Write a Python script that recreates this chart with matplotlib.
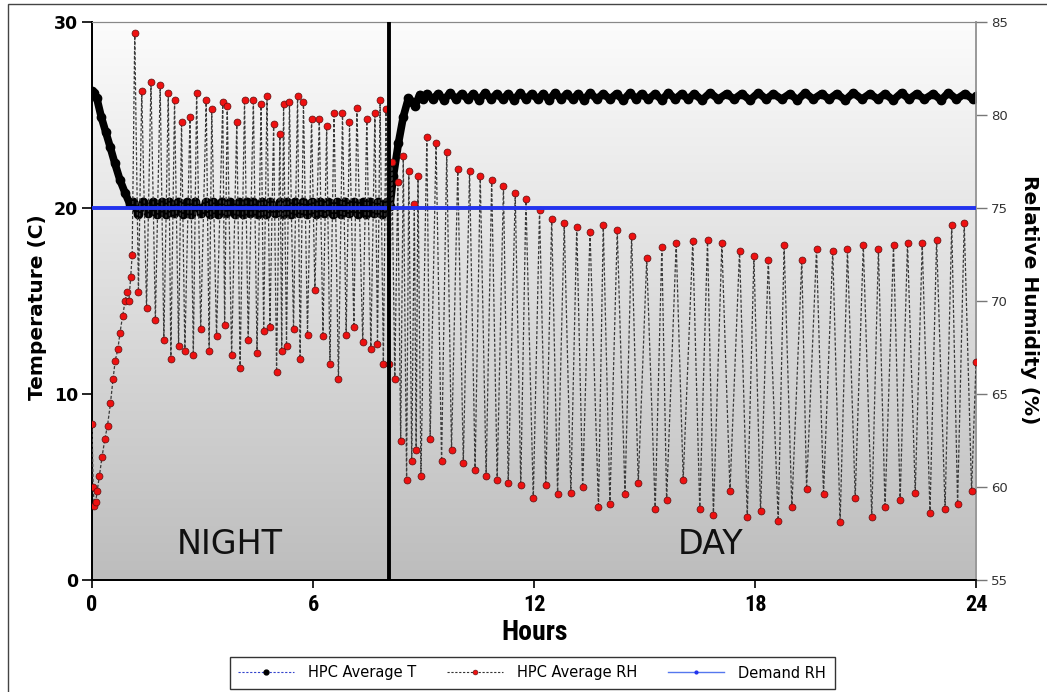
import numpy as np
import matplotlib
matplotlib.use('Agg')
import matplotlib.pyplot as plt
from matplotlib.lines import Line2D
from matplotlib.colors import LinearSegmentedColormap
from matplotlib.patches import Rectangle
from matplotlib.font_manager import FontProperties

# values (hours / deg C / % RH)

# --- HPC Average T ---
t_T_ramp = [0.0, 0.05, 0.13, 0.25, 0.37, 0.49, 0.62, 0.76, 0.9, 1.03]
T_ramp = [26.3, 26.2, 25.9, 24.9, 24.1, 23.3, 22.4, 21.5, 20.8, 20.2]

t_T_night_hi = [1.12, 1.39, 1.65, 1.89, 2.10,
                2.34, 2.57, 2.80, 3.10, 3.29,
                3.52, 3.75, 4.00, 4.20, 4.38,
                4.61, 4.83, 5.09, 5.29, 5.51,
                5.72, 5.96, 6.19, 6.42, 6.64,
                6.87, 7.10, 7.35, 7.55, 7.77,
                8.00]
T_night_hi = [20.30, 20.35, 20.30, 20.30, 20.35,
              20.30, 20.30, 20.35, 20.30, 20.30,
              20.35, 20.30, 20.30, 20.35, 20.30,
              20.30, 20.35, 20.30, 20.30, 20.35,
              20.30, 20.30, 20.35, 20.30, 20.30,
              20.35, 20.30, 20.30, 20.35, 20.30,
              20.30]
t_T_night_lo = [1.25, 1.52, 1.77, 2.00, 2.22,
                2.46, 2.69, 2.95, 3.20, 3.41,
                3.63, 3.88, 4.10, 4.29, 4.50,
                4.72, 4.96, 5.19, 5.40, 5.62,
                5.84, 6.08, 6.30, 6.53, 6.76,
                6.98, 7.22, 7.45, 7.66, 7.88]
T_night_lo = [19.70, 19.75, 19.70, 19.70, 19.75,
              19.70, 19.70, 19.75, 19.70, 19.70,
              19.75, 19.70, 19.70, 19.75, 19.70,
              19.70, 19.75, 19.70, 19.70, 19.75,
              19.70, 19.70, 19.75, 19.70, 19.70,
              19.75, 19.70, 19.70, 19.75, 19.70]

t_T_rise = [8.09, 8.18, 8.32, 8.45, 8.59, 8.70, 8.77, 8.90]
T_rise = [20.1, 21.7, 23.5, 24.9, 25.9, 25.7, 25.5, 26.1]

t_T_day_hi = [9.09, 9.40, 9.72, 10.04, 10.35,
              10.67, 10.99, 11.30, 11.62, 11.94,
              12.25, 12.57, 12.89, 13.20, 13.52,
              13.88, 14.24, 14.61, 14.92, 15.29,
              15.65, 16.01, 16.35, 16.78, 17.23,
              17.64, 18.09, 18.50, 18.95, 19.36,
              19.81, 20.22, 20.67, 21.12, 21.53,
              21.98, 22.39, 22.84, 23.25, 23.70,
              24.00]
T_day_hi = [26.15, 26.15, 26.20, 26.15, 26.15,
            26.20, 26.15, 26.15, 26.20, 26.15,
            26.15, 26.20, 26.15, 26.15, 26.20,
            26.15, 26.15, 26.20, 26.15, 26.15,
            26.20, 26.15, 26.15, 26.20, 26.15,
            26.15, 26.20, 26.15, 26.15, 26.20,
            26.15, 26.15, 26.20, 26.15, 26.15,
            26.20, 26.15, 26.15, 26.20, 26.15,
            26.00]
t_T_day_lo = [8.98, 9.25, 9.56, 9.88, 10.20,
              10.51, 10.83, 11.15, 11.46, 11.78,
              12.10, 12.41, 12.73, 13.05, 13.36,
              13.70, 14.06, 14.42, 14.77, 15.10,
              15.47, 15.83, 16.18, 16.56, 17.00,
              17.43, 17.86, 18.30, 18.72, 19.15,
              19.58, 20.01, 20.45, 20.90, 21.33,
              21.75, 22.18, 22.60, 23.05, 23.47,
              23.92]
T_day_lo = [25.85, 25.85, 25.80, 25.85, 25.85,
            25.80, 25.85, 25.85, 25.80, 25.85,
            25.85, 25.80, 25.85, 25.85, 25.80,
            25.85, 25.85, 25.80, 25.85, 25.85,
            25.80, 25.85, 25.85, 25.80, 25.85,
            25.85, 25.80, 25.85, 25.85, 25.80,
            25.85, 25.85, 25.80, 25.85, 25.85,
            25.80, 25.85, 25.85, 25.80, 25.85,
            25.85]

# --- HPC Average RH ---
t_RH_ramp = [0.0, 0.03, 0.06, 0.10, 0.14, 0.20, 0.27, 0.35, 0.42, 0.50,
             0.57, 0.63, 0.70, 0.76, 0.83, 0.90, 0.95, 1.00, 1.05, 1.09]
RH_ramp = [63.4, 60.0, 59.0, 59.2, 59.8, 60.6, 61.6, 62.6, 63.3, 64.5,
           65.8, 66.8, 67.4, 68.3, 69.2, 70.0, 70.5, 70.0, 71.3, 72.5]

t_RH_night_hi = [1.16, 1.35, 1.60, 1.85, 2.07,
                 2.24, 2.43, 2.66, 2.84, 3.10,
                 3.25, 3.55, 3.67, 3.93, 4.14,
                 4.38, 4.59, 4.75, 4.93, 5.10,
                 5.20, 5.36, 5.58, 5.74, 5.96,
                 6.17, 6.37, 6.57, 6.80, 6.99,
                 7.19, 7.46, 7.68, 7.82, 7.98]
RH_night_hi = [84.4, 81.3, 81.8, 81.6, 81.2,
               80.8, 79.6, 79.9, 81.2, 80.8,
               80.3, 80.7, 80.5, 79.6, 80.8,
               80.8, 80.6, 81.0, 79.5, 79.0,
               80.6, 80.7, 81.0, 80.7, 79.8,
               79.8, 79.4, 80.1, 80.1, 79.6,
               80.4, 79.8, 80.1, 80.8, 80.3]
t_RH_night_lo = [1.26, 1.48, 1.72, 1.95, 2.14,
                 2.35, 2.52, 2.75, 2.95, 3.18,
                 3.38, 3.60, 3.79, 4.02, 4.24,
                 4.48, 4.66, 4.83, 5.01, 5.15,
                 5.28, 5.47, 5.65, 5.85, 6.05,
                 6.27, 6.46, 6.69, 6.90, 7.11,
                 7.35, 7.57, 7.75, 7.91]
RH_night_lo = [70.5, 69.6, 69.0, 67.9, 66.9,
               67.6, 67.3, 67.1, 68.5, 67.3,
               68.1, 68.7, 67.1, 66.4, 67.9,
               67.2, 68.4, 68.6, 66.2, 67.3,
               67.6, 68.5, 66.9, 68.2, 70.6,
               68.1, 66.6, 65.8, 68.2, 68.6,
               67.8, 67.4, 67.7, 66.6]

t_RH_switch_hi = [8.14, 8.30, 8.45, 8.60, 8.75, 8.85]
RH_switch_hi = [77.5, 76.4, 77.8, 77.0, 75.2, 76.7]
t_RH_switch_lo = [8.06, 8.22, 8.38, 8.54, 8.68, 8.80, 8.93]
RH_switch_lo = [66.6, 65.8, 62.5, 60.4, 61.4, 62.0, 60.6]

t_RH_day_hi = [9.09, 9.34, 9.63, 9.93, 10.25,
               10.54, 10.85, 11.17, 11.49, 11.78,
               12.15, 12.48, 12.82, 13.16, 13.52,
               13.88, 14.26, 14.65, 15.06, 15.47,
               15.86, 16.31, 16.71, 17.10, 17.58,
               17.97, 18.36, 18.79, 19.27, 19.67,
               20.11, 20.51, 20.94, 21.35, 21.76,
               22.14, 22.54, 22.93, 23.34, 23.68,
               24.00]
RH_day_hi = [78.8, 78.5, 78.0, 77.1, 77.0,
             76.7, 76.5, 76.2, 75.8, 75.5,
             74.9, 74.4, 74.2, 74.0, 73.7,
             74.1, 73.8, 73.5, 72.3, 72.9,
             73.1, 73.2, 73.3, 73.1, 72.7,
             72.4, 72.2, 73.0, 72.2, 72.8,
             72.7, 72.8, 73.0, 72.8, 73.0,
             73.1, 73.1, 73.3, 74.1, 74.2,
             66.7]
t_RH_day_lo = [9.18, 9.49, 9.76, 10.08, 10.40,
               10.70, 11.00, 11.30, 11.64, 11.98,
               12.32, 12.64, 13.00, 13.32, 13.75,
               14.06, 14.47, 14.83, 15.29, 15.60,
               16.05, 16.50, 16.87, 17.32, 17.79,
               18.15, 18.63, 19.00, 19.40, 19.86,
               20.31, 20.72, 21.17, 21.53, 21.94,
               22.35, 22.75, 23.16, 23.50, 23.88]
RH_day_lo = [62.6, 61.4, 62.0, 61.3, 60.9,
             60.6, 60.4, 60.2, 60.1, 59.4,
             60.1, 59.6, 59.7, 60.0, 58.9,
             59.1, 59.6, 60.2, 58.8, 59.3,
             60.4, 58.8, 58.5, 59.8, 58.4,
             58.7, 58.2, 58.9, 59.9, 59.6,
             58.1, 59.4, 58.4, 58.9, 59.3,
             59.7, 58.6, 58.8, 59.1, 59.8]

# --- Demand RH and night/day switch ---
demand_t = [0, 24]
demand_RH = [75, 75]
switch_hour = 8.05


def join(*pairs):
    # put the segments together in time order
    t = np.concatenate([np.asarray(p[0], float) for p in pairs])
    v = np.concatenate([np.asarray(p[1], float) for p in pairs])
    order = np.argsort(t, kind='stable')
    return t[order], v[order]


T_t, T_v = join((t_T_ramp, T_ramp), (t_T_night_hi, T_night_hi), (t_T_night_lo, T_night_lo),
                (t_T_rise, T_rise), (t_T_day_hi, T_day_hi), (t_T_day_lo, T_day_lo))
RH_t, RH_v = join((t_RH_ramp, RH_ramp), (t_RH_night_hi, RH_night_hi), (t_RH_night_lo, RH_night_lo),
                  (t_RH_switch_hi, RH_switch_hi), (t_RH_switch_lo, RH_switch_lo),
                  (t_RH_day_hi, RH_day_hi), (t_RH_day_lo, RH_day_lo))

fig = plt.figure(figsize=(10.47, 6.92), dpi=100)
fig.subplots_adjust(left=0.0879, right=0.9322, bottom=0.1618, top=0.9682)
ax = fig.add_subplot(111)
ax2 = ax.twinx()

# grey gradient background
bg = LinearSegmentedColormap.from_list('bg', ['#bdbdbd', '#fcfcfc'])
ax.imshow(np.linspace(0, 1, 256).reshape(-1, 1), extent=[0, 24, 0, 30], origin='lower',
          aspect='auto', cmap=bg, zorder=0)

# temperature: dense markers show up as a thick black band
ax.plot(T_t, T_v, color='black', lw=5.5, solid_joinstyle='round', solid_capstyle='round', zorder=3)
ax.plot(T_t, T_v, ls='none', marker='o', ms=6, color='black', zorder=3)

ax2.plot(RH_t, RH_v, color='#3a3a3a', lw=0.9, ls=(0, (2.5, 1.5)), marker='o', ms=5,
         mfc='#ee1111', mec='#5a1010', mew=0.5, zorder=3)
ax2.plot(demand_t, demand_RH, color='#2233ee', lw=2.8, zorder=4)
ax2.axvline(switch_hour, color='black', lw=2.8, zorder=5)

ax.text(3.75, 1.9, 'NIGHT', ha='center', va='center', fontsize=24, color='#111111')
ax.text(16.8, 1.9, 'DAY', ha='center', va='center', fontsize=24, color='#111111')

ax.set_xlim(0, 24)
ax.set_ylim(0, 30)
ax2.set_ylim(55, 85)
ax.set_xticks([0, 6, 12, 18, 24])
ax.set_yticks([0, 10, 20, 30])
ax2.set_yticks([55, 60, 65, 70, 75, 80, 85])

narrow_family = ['Roboto Condensed', 'Open Sans Condensed', 'DejaVu Sans']
ax.tick_params(axis='y', direction='out', length=7, width=1.2, labelsize=12.5, pad=3)
ax.tick_params(axis='x', direction='out', length=6, width=1.2, pad=4)
for lab in ax.get_yticklabels():
    lab.set_fontweight('bold')
for lab in ax.get_xticklabels():
    lab.set_fontproperties(FontProperties(family=narrow_family, weight='bold',
                                          stretch='condensed', size=16))
ax2.tick_params(axis='y', direction='out', length=8, width=1, color='#777777',
                labelcolor='#333333', labelsize=9.5, pad=3)

for a in (ax, ax2):
    a.spines['left'].set_color('black')
    a.spines['left'].set_linewidth(1.3)
    a.spines['bottom'].set_color('black')
    a.spines['bottom'].set_linewidth(1.3)
    a.spines['top'].set_color('#888888')
    a.spines['right'].set_color('#999999')
    a.spines['right'].set_linewidth(1.2)

fig.text(38 / 1047, 1 - 307 / 692, 'Temperature (C)', rotation=90, ha='center', va='center',
         fontsize=14.5, fontweight='bold')
fig.text(1030 / 1047, 1 - 300 / 692, 'Relative Humidity (%)', rotation=270, ha='center',
         va='center', fontsize=14.5, fontweight='bold')
fig.text(535 / 1047, 1 - 633 / 692, 'Hours', ha='center', va='center',
         fontproperties=FontProperties(family=narrow_family, weight='bold',
                                       stretch='condensed', size=20))

h_T = Line2D([], [], color='#3344cc', lw=0.8, ls=(0, (2, 1.5)), marker='o', ms=3.5,
             mfc='black', mec='black')
h_RH = Line2D([], [], color='#333333', lw=0.8, ls=(0, (2, 1.5)), marker='o', ms=3.5,
              mfc='#ee1111', mec='#5a1010', mew=0.4)
h_D = Line2D([], [], color='#5577ee', lw=1.0, marker='o', ms=2, mfc='#2233ee', mec='#2233ee')
fig.legend([h_T, h_RH, h_D], ['HPC Average T', 'HPC Average RH', 'Demand RH'],
           loc='center', bbox_to_anchor=(532 / 1047, 1 - 673 / 692), ncol=3, fontsize=10.5,
           frameon=True, fancybox=False, edgecolor='#333333', framealpha=1,
           handlelength=3.85, columnspacing=2.1, borderpad=0.6, handletextpad=0.95)

# thin outer frame of the original image
fig.patches.append(Rectangle((8 / 1047, -0.05), 1.0, 1.05 - 4 / 692, transform=fig.transFigure,
                             fill=False, ec='#444444', lw=1))

fig.savefig('out.png', dpi=100)
